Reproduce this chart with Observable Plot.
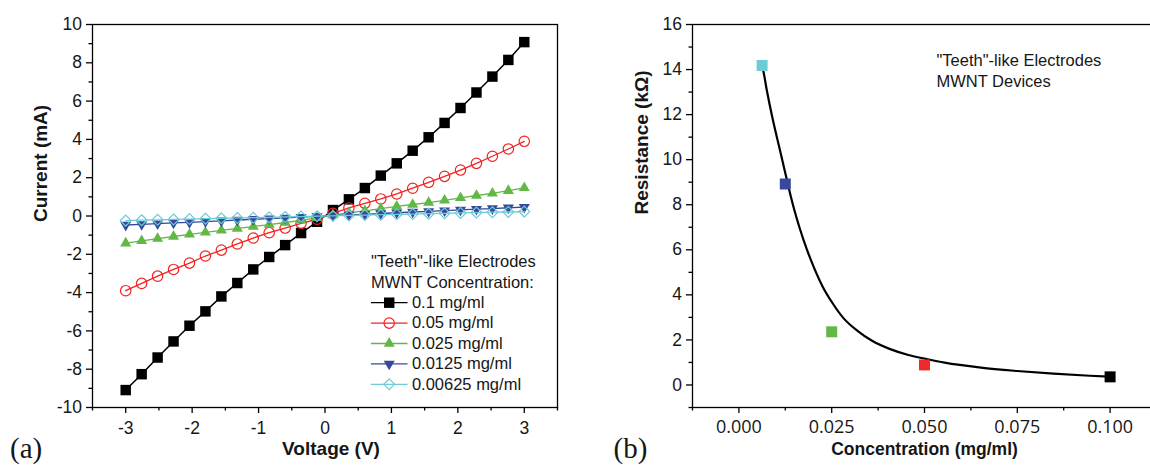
<!DOCTYPE html>
<html><head><meta charset="utf-8">
<script src="https://cdn.jsdelivr.net/npm/d3@7"></script>
<script src="https://cdn.jsdelivr.net/npm/@observablehq/plot@0.6"></script>
<style>
html,body{margin:0;padding:0;background:#fff;overflow:hidden;width:1150px;height:465px;}
#wrap{position:relative;width:1150px;height:465px;overflow:hidden;}
#a{position:absolute;left:0;top:0;width:580px;height:465px;}
#b{position:absolute;left:580px;top:0;width:600px;height:465px;}
svg{overflow:visible;max-width:none !important;}
</style></head><body><div id="wrap"><div id="a"></div><div id="b"></div></div>
<script>
// ---------- Panel (a): I-V curves ----------
const voltage = [-3, -2.76, -2.52, -2.28, -2.04, -1.8, -1.56, -1.32, -1.08, -0.84, -0.6, -0.36, -0.12,
                 0.12, 0.36, 0.6, 0.84, 1.08, 1.32, 1.56, 1.8, 2.04, 2.28, 2.52, 2.76, 3];
const seriesNames = ["0.1 mg/ml", "0.05 mg/ml", "0.025 mg/ml", "0.0125 mg/ml", "0.00625 mg/ml"];
const seriesColors = ["#000000", "#f22222", "#62b847", "#37499c", "#6dcbd8"];
const current_0100 = [-9.09, -8.26, -7.39, -6.55, -5.73, -4.98, -4.20, -3.50, -2.79, -2.14, -1.52, -0.89, -0.30,
                      0.31, 0.87, 1.46, 2.11, 2.75, 3.41, 4.11, 4.86, 5.64, 6.45, 7.28, 8.15, 9.08];
const current_0050 = [-3.90, -3.52, -3.14, -2.79, -2.46, -2.09, -1.78, -1.46, -1.15, -0.87, -0.63, -0.38, -0.17,
                      0.14, 0.42, 0.66, 0.89, 1.15, 1.45, 1.76, 2.07, 2.40, 2.75, 3.12, 3.50, 3.90];
const current_0025 = [-1.42, -1.30, -1.18, -1.07, -0.96, -0.85, -0.75, -0.65, -0.55, -0.45, -0.34, -0.23, -0.10,
                      0.05, 0.17, 0.27, 0.38, 0.50, 0.60, 0.70, 0.82, 0.95, 1.07, 1.18, 1.32, 1.47];
const current_0125 = [-0.47, -0.44, -0.40, -0.36, -0.33, -0.29, -0.25, -0.21, -0.17, -0.14, -0.10, -0.06, -0.02,
                      0.02, 0.06, 0.09, 0.13, 0.17, 0.21, 0.24, 0.28, 0.32, 0.36, 0.39, 0.43, 0.46];
const current_00625 = [-0.24, -0.22, -0.20, -0.18, -0.16, -0.14, -0.12, -0.10, -0.09, -0.07, -0.05, -0.03, -0.01,
                       0.01, 0.03, 0.05, 0.07, 0.09, 0.10, 0.12, 0.14, 0.16, 0.18, 0.20, 0.21, 0.23];
const currents = [current_0100, current_0050, current_0025, current_0125, current_00625];
const xTicksA = [-3, -2, -1, 0, 1, 2, 3];
const xMinorA = [-3.5, -2.5, -1.5, -0.5, 0.5, 1.5, 2.5, 3.5];
const yTicksA = [-10, -8, -6, -4, -2, 0, 2, 4, 6, 8, 10];
const yMinorA = [-9, -7, -5, -3, -1, 1, 3, 5, 7, 9];

// ---------- Panel (b): resistance vs concentration ----------
const concentration = [0.00625, 0.0125, 0.025, 0.05, 0.1];
const resistance = [14.18, 8.92, 2.36, 0.89, 0.36];
const pointColors = ["#6dcbd8", "#37499c", "#62b847", "#ee2b2b", "#000000"];
const fitX = [0.00625, 0.00655, 0.00753, 0.0090, 0.01046, 0.01193, 0.0134, 0.01486, 0.01632, 0.01828, 0.02023,
              0.02268, 0.02512, 0.02805, 0.03196, 0.03587, 0.04076, 0.04565, 0.05005, 0.05543, 0.0652,
              0.07498, 0.08475, 0.09453, 0.1];
const fitY = [14.15, 13.96, 13.07, 11.88, 10.84, 9.81, 8.77, 7.81, 6.99, 6.03, 5.21,
              4.33, 3.66, 2.99, 2.40, 1.96, 1.59, 1.33, 1.17, 0.99, 0.77,
              0.62, 0.50, 0.41, 0.37];
const xTicksB = [0, 0.025, 0.05, 0.075, 0.1];
const xMinorB = [-0.0125, 0.0125, 0.0375, 0.0625, 0.0875, 0.1125];
const yTicksB = [0, 2, 4, 6, 8, 10, 12, 14, 16];
const yMinorB = [-1, 1, 3, 5, 7, 9, 11, 13, 15];

// ---------- symbols ----------
const triDown = {draw(ctx, size) {
  const s = Math.sqrt(size * 4 / Math.sqrt(3)), h = s * Math.sqrt(3) / 2;
  ctx.moveTo(-s / 2, -h / 3); ctx.lineTo(s / 2, -h / 3); ctx.lineTo(0, 2 * h / 3); ctx.closePath();
}};
const lineSym = {draw(ctx, size) {
  const h = Math.sqrt(size / Math.PI); ctx.moveTo(-h, 0); ctx.lineTo(h, 0);
}};
const seriesStyle = [
  {symbol: "square", r: 5.9, fill: seriesColors[0], stroke: "none"},
  {symbol: "circle", r: 5.2, fill: "none", stroke: seriesColors[1], strokeWidth: 1.2},
  {symbol: "triangle", r: 4.1, fill: seriesColors[2], stroke: "none"},
  {symbol: triDown, r: 4.1, fill: seriesColors[3], stroke: "none"},
  {symbol: "diamond2", r: 4.9, fill: "none", stroke: seriesColors[4], strokeWidth: 1.2}
];

const txt = "#161616";
const font = "'Liberation Sans', Arial, sans-serif";

// ---------- build panel (a) ----------
const rowsA = currents.map((arr, k) => voltage.map((v, i) => ({v, c: arr[i]})));
const marksA = [
  Plot.axisX({ticks: xMinorA, tickSize: 3.5, tickFormat: () => "", label: null, strokeWidth: 1.3}),
  Plot.axisX({ticks: xTicksA, tickSize: 6, tickPadding: 8, tickFormat: d => String(d), label: null, strokeWidth: 1.3, fontSize: 17.5, fill: txt}),
  Plot.axisY({ticks: yMinorA, tickSize: 3.5, tickFormat: () => "", label: null, strokeWidth: 1.3}),
  Plot.axisY({ticks: yTicksA, tickSize: 6, tickPadding: 4.5, tickFormat: d => String(d), label: null, strokeWidth: 1.3, fontSize: 17.5, fill: txt})
];
rowsA.forEach((rows, k) => {
  marksA.push(Plot.line(rows, {x: "v", y: "c", stroke: seriesColors[k], strokeWidth: k === 0 ? 1.5 : 1.3}));
  marksA.push(Plot.dot(rows, {x: "v", y: "c", ...seriesStyle[k]}));
});
marksA.push(Plot.frame({stroke: "black", strokeWidth: 1.3}));
// legend
const legX = 278.4, legTop = 237.4, legStep = 20.4;
marksA.push(Plot.text(["\"Teeth\"-like Electrodes"], {frameAnchor: "top-left", dx: legX, dy: legTop, textAnchor: "start", lineAnchor: "middle", fontSize: 16.5, fill: txt}));
marksA.push(Plot.text(["MWNT Concentration:"], {frameAnchor: "top-left", dx: legX, dy: legTop + legStep, textAnchor: "start", lineAnchor: "middle", fontSize: 16.5, fill: txt}));
seriesNames.forEach((name, k) => {
  const dy = legTop + legStep * (k + 2);
  marksA.push(Plot.dot([name], {frameAnchor: "top-left", dx: legX + 18.3, dy, symbol: lineSym, r: 18.3, fill: "none", stroke: seriesColors[k], strokeWidth: 1.3}));
  marksA.push(Plot.dot([name], {frameAnchor: "top-left", dx: legX + 18.3, dy, ...seriesStyle[k]}));
  marksA.push(Plot.text([name], {frameAnchor: "top-left", dx: legX + 41, dy, textAnchor: "start", lineAnchor: "middle", fontSize: 16.5, fill: txt}));
});
marksA.push(Plot.text(["Current (mA)"], {frameAnchor: "left", dx: -52, dy: 6, rotate: -90, lineAnchor: "middle", fontWeight: "bold", fontSize: 19, fill: txt}));
marksA.push(Plot.text(["Voltage (V)"], {frameAnchor: "bottom", dx: 6, dy: 41.5, lineAnchor: "middle", fontWeight: "bold", fontSize: 19, fill: txt}));
marksA.push(Plot.text(["(a)"], {frameAnchor: "bottom-left", dx: -82.5, dy: 50.5, textAnchor: "start", lineAnchor: "bottom", fontSize: 29, fontFamily: "'Liberation Serif', 'DejaVu Serif', serif", fill: txt}));

const plotA = Plot.plot({
  width: 580, height: 465,
  marginLeft: 92, marginRight: 23, marginTop: 24, marginBottom: 58,
  x: {domain: [-3.5, 3.5], label: null},
  y: {domain: [-10, 10], label: null},
  style: {fontFamily: font, background: "white", color: "black", overflow: "visible", maxWidth: "none"},
  marks: marksA
});
document.getElementById("a").appendChild(plotA);

// ---------- build panel (b) ----------
const pointsB = concentration.map((c, i) => ({c, r: resistance[i], col: pointColors[i]}));
const fitB = fitX.map((c, i) => ({c, r: fitY[i]}));
const marksB = [
  Plot.axisX({ticks: xMinorB, tickSize: 3.5, tickFormat: () => "", label: null, strokeWidth: 1.3}),
  Plot.axisX({ticks: xTicksB, tickSize: 6, tickPadding: 6.5, tickFormat: d3.format(".3f"), label: null, strokeWidth: 1.3, fontSize: 18, fontFamily: "'Open Sans', sans-serif", fill: txt}),
  Plot.axisY({ticks: yMinorB, tickSize: 3.5, tickFormat: () => "", label: null, strokeWidth: 1.3}),
  Plot.axisY({ticks: yTicksB, tickSize: 6, tickPadding: 4.5, tickFormat: d => String(d), label: null, strokeWidth: 1.3, fontSize: 17.5, fill: txt}),
  Plot.line(fitB, {x: "c", y: "r", stroke: "black", strokeWidth: 2.2, curve: "monotone-x"}),
  Plot.dot(pointsB, {x: "c", y: "r", symbol: "square", r: 6.2, fill: "col"}),
  Plot.frame({stroke: "black", strokeWidth: 1.3}),
  Plot.text(["\"Teeth\"-like Electrodes"], {frameAnchor: "top-left", dx: 244, dy: 36.4, textAnchor: "start", lineAnchor: "middle", fontSize: 16.5, fill: txt}),
  Plot.text(["MWNT Devices"], {frameAnchor: "top-left", dx: 244, dy: 56.8, textAnchor: "start", lineAnchor: "middle", fontSize: 16.5, fill: txt}),
  Plot.text(["Resistance (kΩ)"], {frameAnchor: "left", dx: -50.7, dy: -1.5, rotate: -90, lineAnchor: "middle", fontWeight: "bold", fontSize: 19, fill: txt}),
  Plot.text(["Concentration (mg/ml)"], {frameAnchor: "bottom", dx: 0, dy: 42.3, lineAnchor: "middle", fontWeight: "bold", fontSize: 17.5, fill: txt}),
  Plot.text(["(b)"], {frameAnchor: "bottom-left", dx: -79, dy: 50.5, textAnchor: "start", lineAnchor: "bottom", fontSize: 29, fontFamily: "'Liberation Serif', 'DejaVu Serif', serif", fill: txt})
];
const plotB = Plot.plot({
  width: 600, height: 465,
  marginLeft: 112, marginRight: 24, marginTop: 24, marginBottom: 58,
  x: {domain: [-0.0125, 0.1125], label: null},
  y: {domain: [-1, 16], label: null},
  style: {fontFamily: font, background: "white", color: "black", overflow: "visible", maxWidth: "none"},
  marks: marksB
});
document.getElementById("b").appendChild(plotB);
</script>
</body></html>
